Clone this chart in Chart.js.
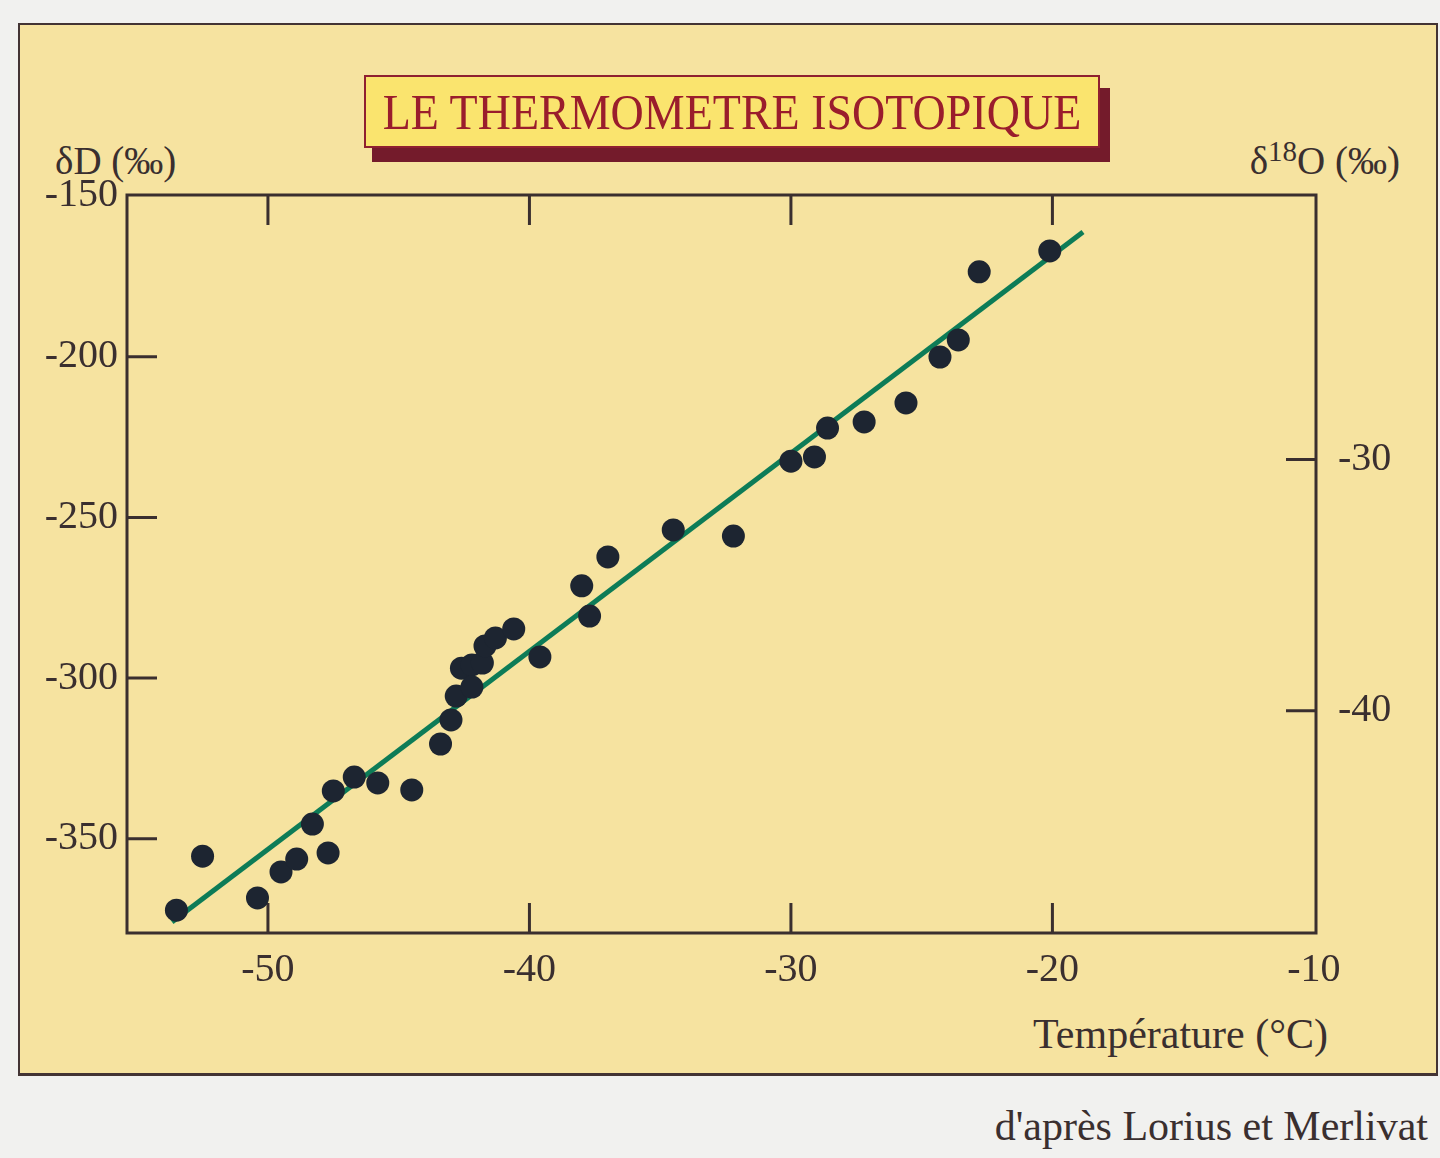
<!DOCTYPE html>
<html lang="fr">
<head>
<meta charset="utf-8">
<title>Le thermomètre isotopique</title>
<script src="https://cdn.jsdelivr.net/npm/chart.js@4"></script>
<style>
  html, body { margin: 0; padding: 0; }
  body {
    width: 1440px; height: 1158px; position: relative; overflow: hidden;
    background: #f1f1ef;
    font-family: "Liberation Serif", "DejaVu Serif", serif;
    color: #3a2f2f;
  }
  #panel {
    position: absolute; left: 18px; top: 23px; width: 1420px; height: 1053px;
    box-sizing: border-box;
    background: #f6e3a0;
    border: 2px solid #433434; border-bottom-width: 3px;
  }
  #titleShadow {
    position: absolute; left: 372px; top: 88px; width: 738px; height: 74px;
    background: #741b2b;
  }
  #titleBox {
    position: absolute; left: 364px; top: 75px; width: 736px; height: 73px;
    box-sizing: border-box;
    background: #fae46e; border: 2px solid #8f2030;
    display: flex; align-items: center; justify-content: center;
    color: #9a1d2c; font-size: 46px;
  }
  #titleBox span { display: inline-block; transform: scaleY(1.12); }
  .lbl { position: absolute; white-space: nowrap; line-height: 1; }
  #yLeftTitle { left: 55px; top: 141px; font-size: 39px; }
  #yRightTitle { right: 40px; top: 141px; font-size: 39px; }
  #yRightTitle sup { font-size: 29px; position: relative; top: -4px; vertical-align: top; }
  #xTitle { right: 112px; top: 1013px; font-size: 42px; }
  #source { right: 12px; top: 1105px; font-size: 42px; }
  canvas { position: absolute; left: 0; top: 0; }
</style>
</head>
<body>
<div id="panel"></div>
<div id="titleShadow"></div>
<div id="titleBox"><span>LE THERMOMETRE ISOTOPIQUE</span></div>
<div class="lbl" id="yLeftTitle">δD (‰)</div>
<div class="lbl" id="yRightTitle">δ<sup>18</sup>O (‰)</div>
<div class="lbl" id="xTitle">Température (°C)</div>
<div class="lbl" id="source">d'après Lorius et Merlivat</div>
<canvas id="chart" width="1440" height="1158"></canvas>

<script>
  // mesures : température (°C) et deutérium (‰)
  const tempC = [
    -53.5, -52.5, -50.4, -49.5, -48.9, -48.3, -47.7, -47.5, -46.7, -45.8,
    -44.5, -43.4, -43.0, -42.8, -42.6, -42.2, -41.8, -42.2, -41.7, -41.3,
    -40.6, -39.6, -38.0, -37.7, -37.0, -34.5, -32.2, -30.0, -29.1, -28.6,
    -27.2, -25.6, -24.3, -23.6, -22.8, -20.1
  ];
  const deltaD = [
    -372.2, -355.4, -368.4, -360.3, -356.3, -345.4, -354.4, -335.1, -330.8, -332.6,
    -334.8, -320.5, -313.0, -305.6, -296.9, -295.9, -295.3, -302.8, -290.0, -287.5,
    -284.7, -293.4, -271.3, -280.7, -262.3, -253.9, -255.8, -232.5, -231.2, -222.2,
    -220.3, -214.4, -200.1, -194.8, -173.6, -167.1
  ];

  // droite de régression
  const fitT = [-53.67, -18.83];
  const fitD = [-375.9, -161.2];

  // graduations
  const tempTicks = [-50, -40, -30, -20, -10];
  const deltaDTicks = [-150, -200, -250, -300, -350];
  const delta18OTicks = [-30, -40];

  // bornes des axes
  const tempRange = [-55.39, -9.92];
  const deltaDRange = [-379.3, -149.7];
  const delta18ORange = [-48.84, -19.48];

  const INK = "#3a2f2f";
  const TICK = 30;
  const tickFont = { family: "Liberation Serif", size: 40 };

  // cadre + graduations tournées vers l'intérieur
  const framePlugin = {
    id: "frame",
    beforeDatasetsDraw(chart) {
      const { ctx, chartArea: a, scales } = chart;
      ctx.save();
      ctx.strokeStyle = INK;
      ctx.lineWidth = 3;
      ctx.strokeRect(a.left, a.top, a.right - a.left, a.bottom - a.top);
      ctx.beginPath();
      scales.x.ticks.forEach(t => {
        const px = scales.x.getPixelForValue(t.value);
        if (px > a.right - 5) return;
        ctx.moveTo(px, a.bottom); ctx.lineTo(px, a.bottom - TICK);
        ctx.moveTo(px, a.top); ctx.lineTo(px, a.top + TICK);
      });
      scales.y.ticks.forEach(t => {
        const py = scales.y.getPixelForValue(t.value);
        if (py < a.top + 5) return;
        ctx.moveTo(a.left, py); ctx.lineTo(a.left + TICK, py);
      });
      scales.y2.ticks.forEach(t => {
        const py = scales.y2.getPixelForValue(t.value);
        ctx.moveTo(a.right, py); ctx.lineTo(a.right - TICK, py);
      });
      ctx.stroke();
      ctx.restore();
    }
  };

  const setTicks = values => scale => {
    scale.ticks = values.map(v => ({ value: v }));
  };

  new Chart(document.getElementById("chart"), {
    type: "scatter",
    data: {
      datasets: [
        {
          label: "mesures",
          data: tempC.map((t, i) => ({ x: t, y: deltaD[i] })),
          pointRadius: 11.5,
          pointBackgroundColor: "#1d2531",
          pointBorderWidth: 0,
          yAxisID: "y"
        },
        {
          type: "line",
          label: "régression",
          data: fitT.map((t, i) => ({ x: t, y: fitD[i] })),
          borderColor: "#0d7c57",
          borderWidth: 5,
          pointRadius: 0,
          fill: false,
          yAxisID: "y"
        }
      ]
    },
    options: {
      responsive: false,
      animation: false,
      layout: { padding: { top: 195, left: 0, right: 0, bottom: 0 } },
      plugins: { legend: { display: false }, tooltip: { enabled: false } },
      scales: {
        x: {
          type: "linear", position: "bottom",
          min: tempRange[0], max: tempRange[1],
          afterBuildTicks: setTicks(tempTicks),
          afterFit: s => { s.height = 225; },
          grid: { display: false, drawTicks: false },
          border: { display: false },
          ticks: { font: tickFont, color: INK, padding: 13, autoSkip: false, maxRotation: 0 }
        },
        y: {
          type: "linear", position: "left",
          min: deltaDRange[0], max: deltaDRange[1],
          afterBuildTicks: setTicks(deltaDTicks),
          afterFit: s => { s.width = 127; },
          grid: { display: false, drawTicks: false },
          border: { display: false },
          ticks: { font: tickFont, color: INK, padding: 9, autoSkip: false }
        },
        y2: {
          type: "linear", position: "right",
          min: delta18ORange[0], max: delta18ORange[1],
          afterBuildTicks: setTicks(delta18OTicks),
          afterFit: s => { s.width = 124; },
          grid: { display: false, drawTicks: false },
          border: { display: false },
          ticks: { font: tickFont, color: INK, padding: 22, autoSkip: false }
        }
      }
    },
    plugins: [framePlugin]
  });
</script>
</body>
</html>
